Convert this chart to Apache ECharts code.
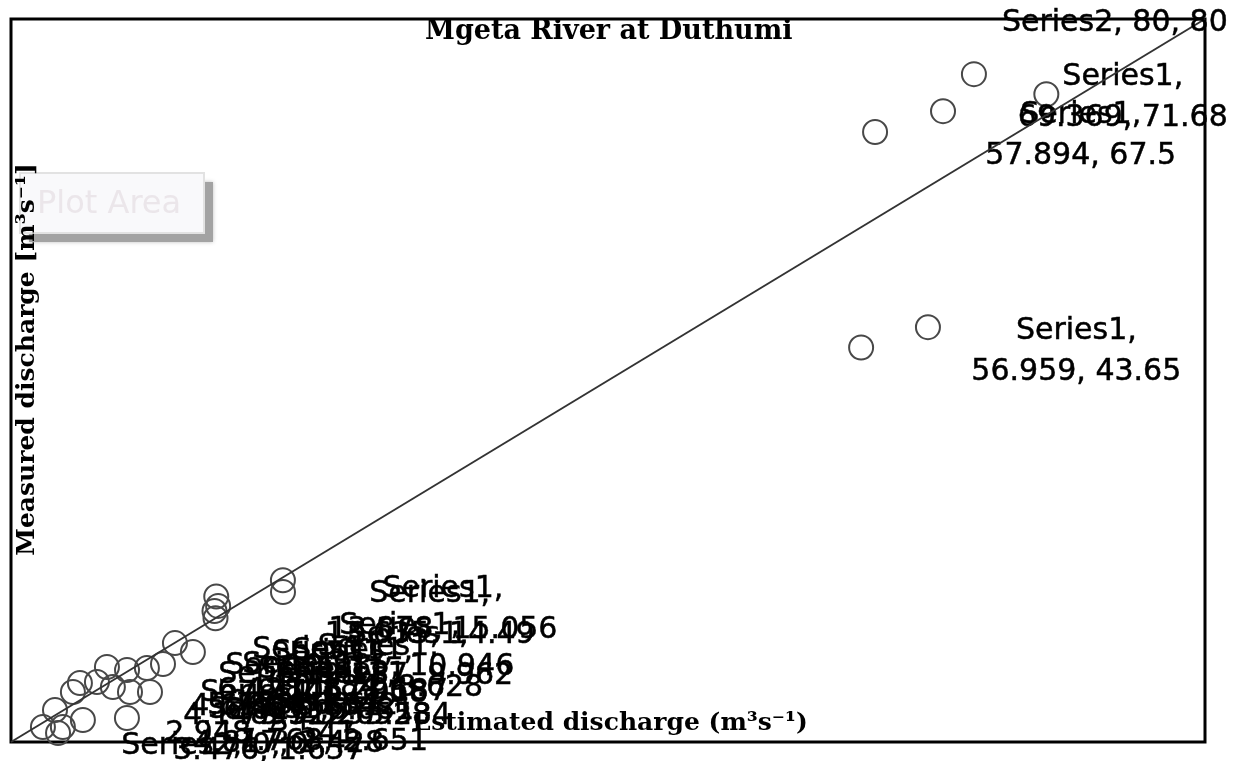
<!DOCTYPE html>
<html>
<head>
<meta charset="utf-8">
<title>Mgeta River at Duthumi</title>
<script src="https://cdn.jsdelivr.net/npm/echarts@6/dist/echarts.min.js"></script>
<style>
  html, body { margin: 0; padding: 0; background: #fff; }
  #chart { width: 1238px; height: 761px; }
</style>
</head>
<body>
<div id="chart"></div>
<script>
// Series1: estimated vs measured discharge (m3/s)
const estimated = [57.894, 69.369, 56.959, 62.447, 64.518, 61.437, 18.218, 18.224, 13.752, 13.878, 13.635, 13.702,
  10.985, 12.187, 6.428, 7.774, 9.106, 10.184, 4.617, 5.758, 6.826, 7.972, 9.312, 4.148, 2.948, 3.476, 4.817, 7.768, 3.152, 2.139]
const measured = [67.5, 71.68, 43.65, 69.8, 73.9, 45.9, 17.897, 16.594, 16.104, 15.056, 14.49, 13.698,
  10.946, 9.962, 8.296, 7.958, 8.187, 8.628, 6.531, 6.642, 6.081, 5.528, 5.534, 5.526, 3.541, 1.657, 2.428, 2.651, 0.998, 1.663]
// which points carry a data label (1 = shown)
const labelled = [1, 1, 1, 0, 0, 0, 0, 0, 0, 1, 1, 0,
  1, 1, 1, 1, 1, 1, 1, 1, 1, 1, 1, 1, 1, 1, 1, 1, 0, 0]

// Series2: 1:1 line
const lineX = [0, 80]
const lineY = [0, 80]

const axisMin = 0
const axisMax = 80

const chart = echarts.init(document.getElementById('chart'))

// Excel style labels: pushed to the right of the point, lines centred, kept inside the picture
const placeLabel = (p) => {
  const cx = p.rect.x + p.rect.width / 2
  const cy = p.rect.y + p.rect.height / 2
  const w = p.labelRect.width
  let x = cx + 110 + w / 2
  if (x + w / 2 > 1228) x = 1228 - w / 2
  return { x: x, y: cy + 4, align: 'center', verticalAlign: 'middle' }
}

const labelStyle = {
  fontFamily: 'DejaVu Sans',
  fontSize: 30,
  lineHeight: 41,
  color: '#000',
  opacity: 1,
  textBorderColor: '#000',
  textBorderWidth: 0.5
}

const titleFont = {
  fontFamily: 'DejaVu Serif',
  fontWeight: 'bold',
  fontSize: 25,
  color: '#000'
}

const option = {
  animation: false,
  title: {
    text: 'Mgeta River at Duthumi',
    left: 425,
    top: 18,
    padding: 0,
    textStyle: Object.assign({}, titleFont, { fontSize: 27 })
  },
  grid: {
    left: 11,
    right: 33,
    top: 19,
    bottom: 19,
    show: true,
    borderColor: '#000',
    borderWidth: 3
  },
  xAxis: {
    type: 'value',
    min: axisMin,
    max: axisMax,
    axisLine: { show: false },
    axisTick: { show: false },
    axisLabel: { show: false },
    splitLine: { show: false },
    name: 'Estimated discharge (m³s⁻¹)',
    nameLocation: 'middle',
    nameGap: -31,
    nameTextStyle: Object.assign({ padding: [0, 0, 0, 4] }, titleFont)
  },
  yAxis: {
    type: 'value',
    min: axisMin,
    max: axisMax,
    axisLine: { show: false },
    axisTick: { show: false },
    axisLabel: { show: false },
    splitLine: { show: false },
    name: 'Measured discharge [m³s⁻¹]',
    nameLocation: 'middle',
    nameGap: -29,
    nameTextStyle: Object.assign({ padding: [0, 0, 0, 42] }, titleFont)
  },
  graphic: [
    {
      type: 'rect', z: -1,
      shape: { x: 29, y: 182, width: 184, height: 60 },
      style: { fill: '#a3a3a3', shadowBlur: 4, shadowColor: 'rgba(0,0,0,0.25)' }
    },
    {
      type: 'rect', z: -1,
      shape: { x: 20, y: 173, width: 184, height: 60 },
      style: { fill: '#f9f9fb', stroke: '#e2e2e2', lineWidth: 2 }
    },
    {
      type: 'text', z: -1, x: 37, y: 205,
      style: { text: 'Plot Area', font: '32px "DejaVu Sans"', fill: '#ebe6ea', verticalAlign: 'middle' }
    }
  ],
  series: [
    {
      name: 'Series2',
      type: 'line',
      data: lineX.map((x, i) => [x, lineY[i]]),
      symbol: 'circle',
      symbolSize: 1,
      itemStyle: { color: 'transparent' },
      lineStyle: { color: '#333', width: 2 },
      label: Object.assign({
        show: true,
        formatter: (p) => 'Series2, ' + p.value[0] + ', ' + p.value[1]
      }, labelStyle),
      labelLayout: placeLabel,
      emphasis: { disabled: true },
      z: 3
    },
    {
      name: 'Series1',
      type: 'scatter',
      symbol: 'circle',
      symbolSize: 24,
      itemStyle: { color: 'transparent', borderColor: '#484848', borderWidth: 2, opacity: 1 },
      data: estimated.map((x, i) => ({
        value: [x, measured[i]],
        label: { show: labelled[i] === 1 }
      })),
      label: Object.assign({
        formatter: (p) => 'Series1,\n' + p.value[0] + ', ' + p.value[1]
      }, labelStyle),
      labelLayout: placeLabel,
      emphasis: { disabled: true },
      z: 2
    }
  ]
}

chart.setOption(option)
window.addEventListener('resize', () => chart.resize())
</script>
</body>
</html>
